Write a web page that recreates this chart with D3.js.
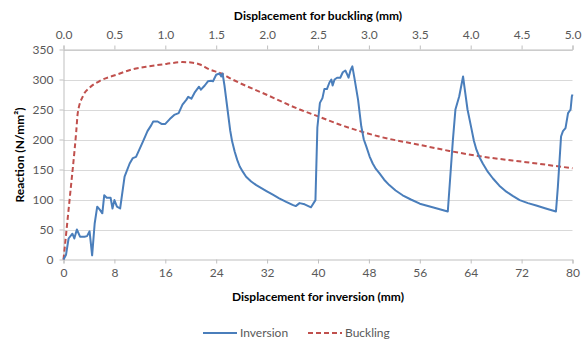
<!DOCTYPE html>
<html>
<head>
<meta charset="utf-8">
<script src="https://cdn.jsdelivr.net/npm/d3@7/dist/d3.min.js"></script>
<style>
  html, body { margin: 0; padding: 0; background: #fff; }
  svg { display: block; font-family: Lato, "Open Sans", sans-serif; }
</style>
</head>
<body>
<svg id="chart" width="582" height="345"></svg>
<script>
// Inversion test: displacement (mm) and reaction (N/mm²)
const inversionDisp = [0,0.4,0.8,1.4,1.7,2.1,2.6,3.3,3.7,4.1,4.5,4.9,5.3,5.7,6.1,6.4,6.8,7.4,7.7,8.0,8.4,8.9,9.6,10.4,10.9,11.4,12.5,13.2,13.8,14.1,14.8,15.4,16.0,16.7,17.4,18.1,18.7,19.3,19.6,20.1,20.6,21.3,21.6,22.2,22.7,23.2,23.5,24.0,24.5,24.8,25.0,25.3,25.6,25.9,26.2,26.5,26.9,27.3,27.7,28.2,28.7,29.5,30.3,31.1,31.9,32.9,33.9,35.0,36.0,36.5,37.1,37.9,38.9,39.6,39.9,40.3,40.7,41.0,41.4,41.8,42.1,42.3,42.6,43.0,43.5,43.9,44.3,44.6,44.8,45.1,45.4,45.7,46.3,46.8,47.2,47.6,48.1,48.6,49.1,49.7,50.4,51.2,52.2,53.3,54.6,56.0,58.0,60.4,61.2,61.6,62.2,62.8,63.0,63.5,64.1,64.5,64.9,65.4,65.9,66.7,67.5,68.5,69.6,70.6,71.7,73.0,74.3,75.8,77.4,77.7,78.2,78.5,78.9,79.3,79.7,79.9,80.0];
const inversionReaction = [0,8,35,43,35,50,38,38,39,47,7,60,88,83,77,107,103,103,85,99,88,85,138,160,169,171,197,214,224,230,230,226,226,234,241,244,258,266,271,268,278,288,283,290,297,298,297,308,310,305,310,290,265,240,215,197,180,166,155,146,138,130,124,119,114,108,102,96,91,89,94,92,87,99,220,261,269,284,284,295,300,290,300,303,303,312,315,308,303,315,322,304,266,222,200,188,172,160,151,143,133,124,115,107,100,93,87,80,199,250,272,305,289,250,219,198,183,170,160,146,135,123,113,106,99,94,90,85,80,121,205,214,219,244,250,272,275];

// Buckling test: displacement (mm) and reaction (N/mm²)
const bucklingDisp = [0,0.06,0.125,0.14,0.19,0.255,0.35,0.52,0.68,0.84,1.01,1.17,1.27,1.34,1.43,1.55,1.66,1.99,2.32,2.51,2.71,2.91,3.10,3.50,3.79,4.09,4.41,4.74,5.0];
const bucklingReaction = [0,100,213,244,272,286,297,308,317,322,326,329,328,325,317,310,300,275,250,238,225,214,205,191,181,172,165,158,152];

// Axis ticks
const inversionTicks = [0,8,16,24,32,40,48,56,64,72,80];
const bucklingTicks = [0,0.5,1.0,1.5,2.0,2.5,3.0,3.5,4.0,4.5,5.0];
const reactionTicks = [0,50,100,150,200,250,300,350];

const seriesNames = ["Inversion", "Buckling"];
const colors = { Inversion: "#4a7ebb", Buckling: "#c0504d" };

const svg = d3.select("#chart");
const L = 63.5, R = 572.5, T = 49.5, B = 259.5;

const xInv = d3.scaleLinear().domain([0, 80]).range([L, R]);
const xBuck = d3.scaleLinear().domain([0, 5]).range([L, R]);
const y = d3.scaleLinear().domain([0, 350]).range([B, T]);

// Horizontal gridlines
svg.append("g").selectAll("line")
  .data(reactionTicks.filter(d => d > 0))
  .join("line")
  .attr("x1", L).attr("x2", R)
  .attr("y1", d => Math.round(y(d)) + 0.5).attr("y2", d => Math.round(y(d)) + 0.5)
  .attr("stroke", "#d9d9d9").attr("stroke-width", 1);

function styleAxis(g) {
  g.selectAll("path.domain").attr("stroke", "#bfbfbf");
  g.selectAll(".tick line").attr("stroke", "#bfbfbf");
  g.selectAll(".tick text").attr("fill", "#595959").style("font-size", "12px").style("font-family", "Lato, 'Open Sans', sans-serif");
}

// Bottom axis: inversion displacement
svg.append("g")
  .attr("transform", `translate(0,${B})`)
  .call(d3.axisBottom(xInv).tickValues(inversionTicks).tickFormat(d3.format("d")).tickSize(4).tickSizeOuter(4).tickPadding(5))
  .call(styleAxis);

// Top axis: buckling displacement
svg.append("g")
  .attr("transform", `translate(0,${T})`)
  .call(d3.axisTop(xBuck).tickValues(bucklingTicks).tickFormat(d3.format(".1f")).tickSize(4).tickSizeOuter(4).tickPadding(7))
  .call(styleAxis);

// Left axis: reaction
svg.append("g")
  .attr("transform", `translate(${L},0)`)
  .call(d3.axisLeft(y).tickValues(reactionTicks).tickSize(4).tickSizeOuter(0).tickPadding(6))
  .call(styleAxis);

// Series lines
const invData = inversionDisp.map((d, i) => [d, inversionReaction[i]]);
const buckData = bucklingDisp.map((d, i) => [d, bucklingReaction[i]]);

svg.append("path")
  .datum(buckData)
  .attr("fill", "none")
  .attr("stroke", colors.Buckling)
  .attr("stroke-width", 2)
  .attr("stroke-dasharray", "5,3")
  .attr("d", d3.line().x(d => xBuck(d[0])).y(d => y(d[1])).curve(d3.curveMonotoneX));

svg.append("path")
  .datum(invData)
  .attr("fill", "none")
  .attr("stroke", colors.Inversion)
  .attr("stroke-width", 2)
  .attr("stroke-linejoin", "round")
  .attr("d", d3.line().x(d => xInv(d[0])).y(d => y(d[1])));

// Axis titles
svg.append("text")
  .attr("x", 318).attr("y", 20)
  .attr("text-anchor", "middle")
  .style("font-size", "12px").style("font-weight", "bold").attr("fill", "#000")
  .text("Displacement for buckling (mm)");

svg.append("text")
  .attr("x", 318).attr("y", 301)
  .attr("text-anchor", "middle")
  .style("font-size", "12px").style("font-weight", "bold").attr("fill", "#000")
  .text("Displacement for inversion (mm)");

svg.append("text")
  .attr("transform", "translate(24,155) rotate(-90)")
  .attr("text-anchor", "middle")
  .style("font-size", "12px").style("font-weight", "bold").attr("fill", "#000")
  .text("Reaction (N/mm²)");

// Legend
const legend = svg.append("g").attr("transform", "translate(0,333)");
const legendItems = [
  { name: seriesNames[0], x0: 203, dash: null },
  { name: seriesNames[1], x0: 308, dash: "5,3" }
];
legendItems.forEach(it => {
  legend.append("line")
    .attr("x1", it.x0).attr("x2", it.x0 + 34)
    .attr("y1", 0).attr("y2", 0)
    .attr("stroke", colors[it.name]).attr("stroke-width", 2)
    .attr("stroke-dasharray", it.dash);
  legend.append("text")
    .attr("x", it.x0 + 37).attr("y", 4)
    .style("font-size", "12px").attr("fill", "#595959")
    .text(it.name);
});
</script>
</body>
</html>
